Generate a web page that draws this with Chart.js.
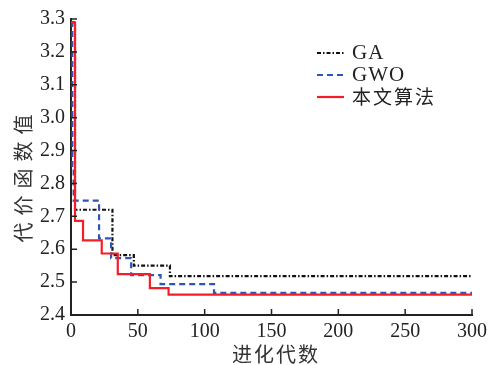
<!DOCTYPE html>
<html>
<head>
<meta charset="utf-8">
<script src="https://cdn.jsdelivr.net/npm/chart.js@4.4.1/dist/chart.umd.min.js"></script>
<style>
  html, body { margin: 0; background: #fff; }
  #wrap { width: 489px; height: 365px; }
</style>
</head>
<body>
<div id="wrap"><canvas id="c"></canvas></div>
<script>
// values (step points: generation -> best cost)
const seriesNames = ['GA', 'GWO', '本文算法'];
const gaGen = [0, 3, 31, 47, 74, 300];
const gaVal = [3.29, 2.72, 2.582, 2.55, 2.518, 2.518];
const gwoGen = [0, 1, 2, 21, 30, 45, 67, 107, 300];
const gwoVal = [3.29, 2.85, 2.748, 2.633, 2.573, 2.521, 2.494, 2.467, 2.467];
const oursGen = [0, 3, 9, 23, 35, 59, 73, 300];
const oursVal = [3.29, 2.686, 2.627, 2.587, 2.524, 2.482, 2.462, 2.462];
const xTicks = [0, 50, 100, 150, 200, 250, 300];
const yTicks = [2.4, 2.5, 2.6, 2.7, 2.8, 2.9, 3.0, 3.1, 3.2, 3.3];
const xTitle = '进化代数';
const yTitle = '代价函数值';

const serif = "'Liberation Serif', 'Noto Sans CJK SC', serif";
const cjk = "'Noto Sans CJK SC', sans-serif";
const toPoints = (gen, val) => gen.map((g, i) => ({ x: g, y: val[i] }));

const decorations = {
  id: 'decorations',
  afterDraw(chart) {
    const { ctx, chartArea: a, scales: { x, y } } = chart;
    ctx.save();
    // inward tick marks
    ctx.strokeStyle = '#222';
    ctx.lineWidth = 1.5;
    ctx.beginPath();
    xTicks.forEach(v => {
      const px = x.getPixelForValue(v);
      ctx.moveTo(px, a.bottom);
      ctx.lineTo(px, a.bottom - 6);
    });
    yTicks.forEach(v => {
      const py = y.getPixelForValue(v);
      ctx.moveTo(a.left, py);
      ctx.lineTo(a.left + 6, py);
    });
    ctx.stroke();

    // legend inside the plot
    const rows = [54, 76, 98];
    chart.data.datasets.forEach((ds, i) => {
      const ly = a.top + rows[i] - 20;
      ctx.beginPath();
      ctx.setLineDash(ds.borderDash || []);
      ctx.strokeStyle = ds.borderColor;
      ctx.lineWidth = 2.2;
      ctx.moveTo(a.left + 246, ly);
      ctx.lineTo(a.left + 273, ly);
      ctx.stroke();
      ctx.setLineDash([]);
      ctx.fillStyle = '#222';
      ctx.textBaseline = 'middle';
      ctx.textAlign = 'left';
      if (i < 2) {
        ctx.font = "21px " + serif;
        ctx.letterSpacing = '1px';
      } else {
        ctx.font = "19px " + cjk;
        ctx.letterSpacing = '2px';
      }
      ctx.fillText(ds.label, a.left + 281, ly);
    });

    // axis titles
    ctx.fillStyle = '#333';
    ctx.font = "20px " + cjk;
    ctx.textAlign = 'center';
    ctx.textBaseline = 'middle';
    ctx.letterSpacing = '2px';
    ctx.fillText(xTitle, 276, 354);
    ctx.save();
    ctx.translate(23, 178);
    ctx.rotate(-Math.PI / 2);
    ctx.letterSpacing = '7px';
    ctx.fillText(yTitle, 3, 0);
    ctx.restore();
    ctx.restore();
  }
};

new Chart(document.getElementById('c'), {
  type: 'line',
  data: {
    datasets: [
      {
        label: seriesNames[0],
        data: toPoints(gaGen, gaVal),
        borderColor: '#111',
        borderDash: [4, 2, 1.5, 2],
        order: 2
      },
      {
        label: seriesNames[1],
        data: toPoints(gwoGen, gwoVal),
        borderColor: 'rgb(45, 85, 185)',
        borderDash: [6, 4],
        order: 1
      },
      {
        label: seriesNames[2],
        data: toPoints(oursGen, oursVal),
        borderColor: 'rgb(245, 30, 40)',
        order: 0
      }
    ].map(ds => Object.assign(ds, {
      stepped: true,
      pointRadius: 0,
      borderWidth: 2.2,
      fill: false
    }))
  },
  options: {
    responsive: true,
    maintainAspectRatio: false,
    animation: false,
    layout: { padding: { top: 19, right: 17, left: 0, bottom: 0 } },
    plugins: {
      legend: { display: false },
      tooltip: { enabled: false }
    },
    scales: {
      x: {
        type: 'linear',
        min: 0,
        max: 300,
        afterFit: s => { s.height = 50; s.paddingLeft = 0; s.paddingRight = 0; },
        afterBuildTicks: s => { s.ticks = xTicks.map(v => ({ value: v })); },
        grid: { drawOnChartArea: false, drawTicks: false },
        border: { color: '#222', width: 2 },
        ticks: {
          padding: 5,
          color: '#222',
          font: { family: serif, size: 20 }
        }
      },
      y: {
        type: 'linear',
        min: 2.4,
        max: 3.3,
        afterFit: s => { s.width = 71; s.paddingTop = 0; s.paddingBottom = 0; },
        afterBuildTicks: s => { s.ticks = yTicks.map(v => ({ value: v })); },
        grid: { drawOnChartArea: false, drawTicks: false },
        border: { color: '#222', width: 2 },
        ticks: {
          padding: 6,
          color: '#222',
          font: { family: serif, size: 20 },
          callback: v => v.toFixed(1)
        }
      }
    }
  },
  plugins: [decorations]
});
</script>
</body>
</html>
